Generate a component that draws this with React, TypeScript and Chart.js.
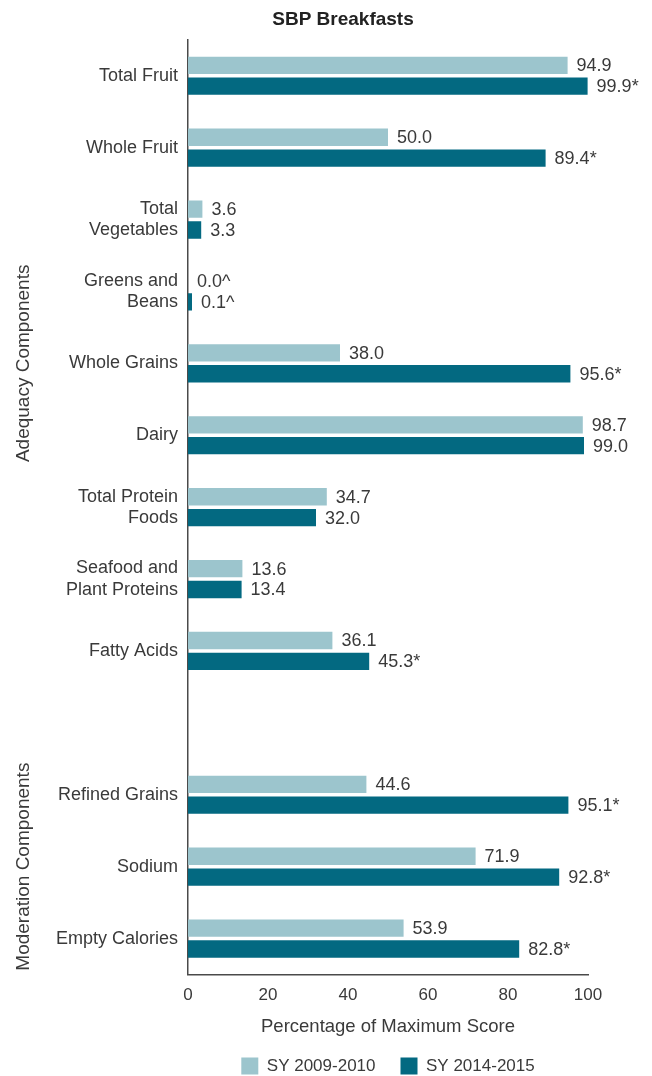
import React, { useEffect, useRef } from "react";
import { Chart, registerables } from "chart.js";

Chart.register(...registerables);

const categories: (string | string[])[] = [
  "Total Fruit",
  "Whole Fruit",
  ["Total", "Vegetables"],
  ["Greens and", "Beans"],
  "Whole Grains",
  "Dairy",
  ["Total Protein", "Foods"],
  ["Seafood and", "Plant Proteins"],
  "Fatty Acids",
  "",
  "Refined Grains",
  "Sodium",
  "Empty Calories",
];

const sy2010: (number | null)[] = [94.9, 50.0, 3.6, 0.0, 38.0, 98.7, 34.7, 13.6, 36.1, null, 44.6, 71.9, 53.9];
const sy2015: (number | null)[] = [99.9, 89.4, 3.3, 0.1, 95.6, 99.0, 32.0, 13.4, 45.3, null, 95.1, 92.8, 82.8];

const labels2010 = ["94.9", "50.0", "3.6", "0.0^", "38.0", "98.7", "34.7", "13.6", "36.1", "", "44.6", "71.9", "53.9"];
const labels2015 = ["99.9*", "89.4*", "3.3", "0.1^", "95.6*", "99.0", "32.0", "13.4", "45.3*", "", "95.1*", "92.8*", "82.8*"];

const seriesNames = ["SY 2009-2010", "SY 2014-2015"];
const xTicks = [0, 20, 40, 60, 80, 100];

const groups = [
  { text: "Adequacy Components", from: 0, to: 8 },
  { text: "Moderation Components", from: 10, to: 12 },
];

const FONT = "'Liberation Sans', Arial, Helvetica, sans-serif";
const LIGHT = "#9cc5cd";
const DARK = "#036981";
const TEXT = "#3a3a3a";
const PAD_LEFT = 98;
const PAD_RIGHT = 64;

const valueLabelPlugin = {
  id: "valueLabels",
  afterLayout(chart: any) {
    // let the category labels use the space left of the axis box
    chart.scales.y.left = 0;
  },
  afterDatasetsDraw(chart: any) {
    const ctx = chart.ctx;
    const all = [labels2010, labels2015];
    ctx.save();
    ctx.font = `18px ${FONT}`;
    ctx.fillStyle = TEXT;
    ctx.textAlign = "left";
    ctx.textBaseline = "middle";
    chart.data.datasets.forEach((ds: any, di: number) => {
      const meta = chart.getDatasetMeta(di);
      meta.data.forEach((bar: any, i: number) => {
        const txt = all[di][i];
        if (!txt || ds.data[i] === null) return;
        ctx.fillText(txt, bar.x + 9, bar.y + 1);
      });
    });
    ctx.restore();
  },
};

const groupLabelPlugin = {
  id: "groupLabels",
  afterDraw(chart: any) {
    const ctx = chart.ctx;
    const y = chart.scales.y;
    ctx.save();
    ctx.font = `19px ${FONT}`;
    ctx.fillStyle = TEXT;
    ctx.textAlign = "center";
    ctx.textBaseline = "middle";
    groups.forEach((g) => {
      const cy = (y.getPixelForValue(g.from) + y.getPixelForValue(g.to)) / 2;
      ctx.save();
      ctx.translate(24, cy);
      ctx.rotate(-Math.PI / 2);
      ctx.fillText(g.text, 0, 0);
      ctx.restore();
    });
    ctx.restore();
  },
};

export default function App() {
  const ref = useRef<HTMLCanvasElement | null>(null);

  useEffect(() => {
    document.body.style.margin = "0";
    const canvas = ref.current;
    if (!canvas) return;
    const chart = new Chart(canvas, {
      type: "bar",
      data: {
        labels: categories,
        datasets: [
          {
            label: seriesNames[0],
            data: sy2010,
            backgroundColor: LIGHT,
            categoryPercentage: 0.58,
            barPercentage: 0.83,
          },
          {
            label: seriesNames[1],
            data: sy2015,
            backgroundColor: DARK,
            categoryPercentage: 0.58,
            barPercentage: 0.83,
            minBarLength: 4,
          },
        ],
      },
      options: {
        indexAxis: "y",
        animation: false,
        responsive: false,
        maintainAspectRatio: false,
        layout: { padding: { left: PAD_LEFT, right: PAD_RIGHT, top: 0, bottom: -8.5 } },
        scales: {
          x: {
            min: 0,
            max: 100,
            afterBuildTicks: (s: any) => {
              s.ticks = xTicks.map((v) => ({ value: v }));
            },
            afterFit: (s: any) => {
              s.height = 58;
            },
            grid: { display: false, drawTicks: false },
            border: { display: true, color: "#4a4a4a", width: 1.5 },
            ticks: {
              padding: 11,
              color: TEXT,
              font: { family: FONT, size: 17 },
              maxRotation: 0,
            },
            title: {
              display: true,
              text: "Percentage of Maximum Score",
              color: TEXT,
              font: { family: FONT, size: 18.5 },
              padding: { top: 0, bottom: -6 },
            },
          },
          y: {
            afterFit: (s: any) => {
              s.width = 188 - PAD_LEFT;
            },
            grid: { display: false, drawTicks: false },
            border: { display: true, color: "#4a4a4a", width: 1.5 },
            ticks: {
              padding: 10,
              color: TEXT,
              font: { family: FONT, size: 18, lineHeight: 1.17 },
              autoSkip: false,
            },
          },
        },
        plugins: {
          title: {
            display: true,
            text: "SBP Breakfasts",
            color: "#222",
            font: { family: FONT, size: 19, weight: "bold" },
            padding: { top: 8, bottom: 9 },
          },
          legend: {
            display: true,
            position: "bottom",
            fullSize: false,
            labels: {
              boxWidth: 17,
              boxHeight: 17,
              padding: 25,
              color: TEXT,
              font: { family: FONT, size: 17 },
            },
          },
          tooltip: { enabled: false },
        },
      },
      plugins: [valueLabelPlugin, groupLabelPlugin],
    } as any);
    return () => chart.destroy();
  }, []);

  return (
    <div style={{ width: 652, height: 1076 }}>
      <canvas ref={ref} width={652} height={1076} style={{ display: "block", width: 652, height: 1076 }} />
    </div>
  );
}
